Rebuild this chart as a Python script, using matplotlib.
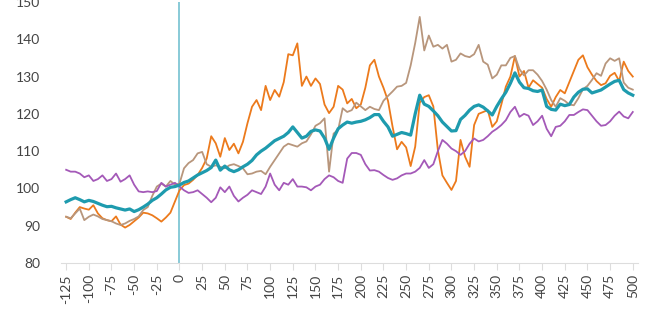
import numpy as np
import matplotlib.pyplot as plt

# trading days relative to the market low, one reading every 5 days
days = np.arange(-125, 505, 5)

series_2001 = [
    92.4, 91.8, 93.5, 95.0, 94.6, 94.3, 95.5, 93.3, 92.0, 91.5,
    91.2, 92.5, 90.3, 89.5, 90.2, 91.2, 92.2, 93.5, 93.3, 92.8,
    92.0, 91.1, 92.2, 93.5, 96.5, 99.5, 100.9, 101.3, 102.3, 103.6,
    105.5, 108.0, 114.0, 112.1, 108.5, 113.5, 110.3, 112.0, 109.4, 112.5,
    117.5, 121.9, 123.7, 121.0, 127.5, 123.7, 126.4, 124.6, 128.5, 136.0,
    135.7, 138.9, 127.5, 130.0, 127.5, 129.5, 128.0, 122.5, 120.2, 121.9,
    127.5, 126.5, 122.8, 124.0, 121.5, 122.5, 127.0, 133.0, 134.5, 130.0,
    127.0, 123.5, 116.6, 110.5, 112.5, 111.0, 106.0, 111.2, 123.0, 124.5,
    125.0, 122.0, 110.3, 103.5, 101.5, 99.6, 102.0, 113.0, 108.5, 105.8,
    117.0, 120.0, 120.5, 121.0, 116.5, 118.0, 122.5, 127.3, 130.0, 135.5,
    130.0, 131.5, 127.0, 129.0, 128.0, 127.0, 124.0, 121.9, 124.5, 126.4,
    125.5, 128.5, 131.5, 134.5, 135.7, 132.5, 130.5, 128.8, 127.7, 128.2,
    130.2, 131.0, 128.8, 134.0, 131.5, 130.0,
]

series_2007 = [
    92.4, 92.0, 93.3, 94.6, 91.5, 92.4, 93.0, 92.5, 91.8, 91.5,
    91.2, 90.6, 90.2, 90.6, 91.3, 91.8, 92.5, 94.2, 95.0, 98.0,
    100.5, 101.3, 100.5, 102.0, 101.0, 101.3, 105.4, 106.8, 107.6, 109.4,
    109.8, 106.5, 105.8, 106.2, 105.8, 105.4, 106.2, 106.5, 106.0, 105.4,
    103.8, 104.0, 104.5, 104.7, 103.8, 105.8, 107.6, 109.4, 111.2, 112.0,
    111.6, 111.2, 112.1, 112.6, 114.5, 116.8, 117.5, 118.8, 104.5, 114.7,
    115.7, 121.5, 120.5, 121.0, 123.0, 122.0, 121.0, 121.9, 121.3, 121.0,
    123.5, 124.8, 126.0, 127.3, 127.5, 128.3, 133.0, 139.0, 146.0, 137.0,
    141.0, 138.0, 138.5, 137.5, 138.5, 134.0, 134.5, 136.2, 135.5, 135.2,
    136.0, 138.5, 134.0, 133.2, 129.5, 130.5, 133.0, 133.0, 135.0, 135.5,
    132.0, 130.3, 131.7, 131.7, 130.5, 128.8, 126.5, 123.7, 121.9, 124.2,
    123.5, 122.5, 122.3, 124.2, 126.6, 127.5, 129.1, 130.9, 130.2, 133.5,
    134.9, 134.2, 134.9, 128.4, 127.0, 126.5,
]

series_2018 = [
    105.0, 104.5, 104.5, 104.0, 103.0, 103.5, 102.0, 102.5, 103.5, 102.0,
    102.5, 104.0, 101.8, 102.5, 103.5, 101.0, 99.2, 99.0, 99.2, 99.0,
    99.3, 101.5, 100.5, 101.0, 101.5, 100.5, 99.5, 98.8, 99.0, 99.5,
    98.5, 97.5, 96.3, 97.5, 100.3, 99.0, 100.5, 98.0, 96.5, 97.5,
    98.3, 99.5, 99.0, 98.5, 100.5, 104.0, 101.0, 99.5, 101.5, 101.0,
    102.5, 100.5, 100.5, 100.3, 99.5, 100.5, 101.0, 102.5, 103.5, 103.0,
    102.0, 101.5, 108.0, 109.5, 109.5, 109.0, 106.5, 104.8, 104.9, 104.5,
    103.6, 102.8, 102.3, 102.7, 103.5, 104.0, 104.0, 104.5, 105.5, 107.6,
    105.5, 106.5, 110.0, 113.0, 112.0, 110.7, 110.0, 109.0, 110.0, 112.0,
    113.4, 112.6, 113.0, 114.0, 115.2, 116.0, 117.0, 118.3, 120.5, 121.9,
    119.2, 120.0, 119.5, 117.0, 118.0, 119.5, 116.0, 114.0, 116.5, 116.8,
    118.0, 119.7, 119.7, 120.5, 121.2, 121.0, 119.5, 118.0, 116.8, 117.0,
    118.0, 119.5, 120.6, 119.3, 118.8, 120.5,
]

series_avg = [
    96.4, 97.0, 97.5, 97.0, 96.4, 96.8, 96.5, 96.0, 95.5, 95.1,
    95.2, 94.8, 94.5, 94.2, 94.5, 93.8, 94.3, 95.0, 95.8, 96.8,
    97.5, 98.5, 99.6, 100.3, 100.5, 100.9, 101.6, 102.0, 102.8, 103.6,
    104.2, 104.8, 105.6, 107.6, 104.9, 106.0, 105.0, 104.5, 105.0, 105.8,
    106.5, 107.5, 109.0, 110.0, 110.8, 111.8, 112.8, 113.4, 114.0, 115.0,
    116.5, 115.0, 113.5, 114.0, 115.3, 115.7, 115.4, 113.5, 110.5, 113.5,
    116.0, 117.0, 117.8, 117.5, 117.8, 118.0, 118.4, 119.0, 119.8, 119.8,
    118.0, 116.5, 114.0, 114.5, 115.0, 114.7, 114.3, 120.0, 125.0, 122.6,
    122.0, 120.8, 119.5, 117.8, 116.6, 115.4, 115.5, 118.5, 119.6, 121.0,
    122.0, 122.4, 121.8, 120.8, 119.7, 122.0, 124.0, 125.8, 128.2, 131.0,
    128.5, 127.0, 126.8, 126.2, 126.0, 126.4, 122.0, 121.2, 121.0, 122.6,
    122.2, 122.5, 124.5, 125.8, 126.6, 126.7, 125.6, 126.0, 126.4, 127.2,
    128.0, 128.7, 129.0, 126.5, 125.6, 125.0,
]

labels = ['2001', '2007', '2018', 'Average']
colors = ['#EC7A1C', '#B8967C', '#A459B8', '#1E9BAE']
widths = [1.3, 1.3, 1.3, 2.3]

plt.rcParams['font.family'] = ['Lato', 'DejaVu Sans']
plt.rcParams['axes.unicode_minus'] = False

fig = plt.figure(figsize=(6.6, 3.3), dpi=100)
ax = fig.add_axes([0.092, 0.203, 0.875, 0.791])

for vals, lab, col, lw in zip([series_2001, series_2007, series_2018, series_avg], labels, colors, widths):
    ax.plot(days, vals, color=col, lw=lw, label=lab)

ax.axvline(0, color='#7FC6D4', lw=1.3, zorder=0)

ax.set_xlim(-131, 506)
ax.set_ylim(80, 150)
ax.set_xticks(np.arange(-125, 501, 25))
ax.set_yticks(np.arange(80, 151, 10))

for s in ['top', 'right', 'left']:
    ax.spines[s].set_visible(False)
ax.spines['bottom'].set_color('#dddddd')
ax.tick_params(axis='x', colors='#dddddd', labelcolor='#444444', length=5,
               labelsize=10, labelrotation=90, pad=3)
ax.tick_params(axis='y', length=0, labelcolor='#444444', labelsize=10, pad=15)

# legend sits at the very bottom edge, mostly clipped like the source image
fig.legend(loc='upper center', bbox_to_anchor=(0.52, 0.012), ncol=4, frameon=False,
           fontsize=9, columnspacing=5.5, handlelength=2, labelcolor='#444444')

fig.savefig('out.png', dpi=100)
